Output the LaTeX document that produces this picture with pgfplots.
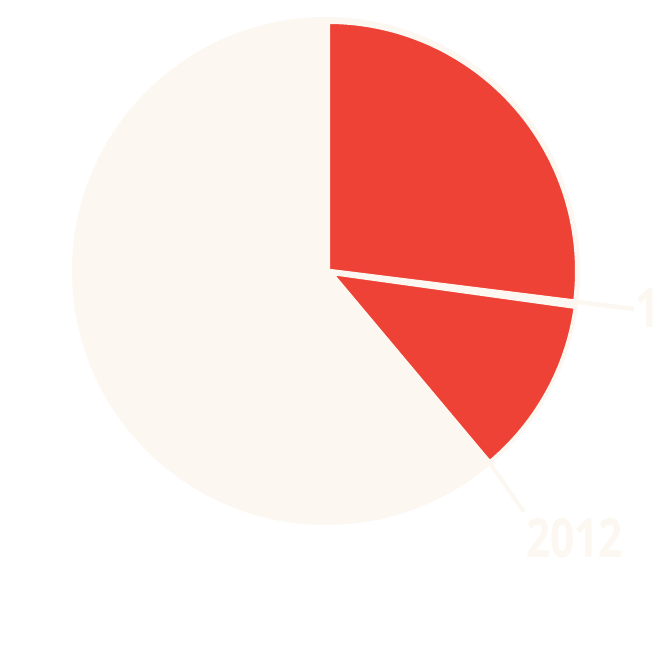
\documentclass[border=0pt]{standalone}
\usepackage{pgfplots}
\usepackage{pgfplotstable}
\pgfplotsset{compat=1.18}
\usepackage{fontspec}
\setmainfont[FakeStretch=0.785]{Open Sans}
\definecolor{pred}{RGB}{239,66,54}
\definecolor{cream}{RGB}{252,247,240}
\pgfplotstableread{
label value
1 27.2
2012 11.7
rest 61.1
}\piedata
\begin{document}
\begin{tikzpicture}
\pgfplotstablegetelem{0}{value}\of\piedata \let\valA\pgfplotsretval
\pgfplotstablegetelem{1}{value}\of\piedata \let\valB\pgfplotsretval
\pgfmathsetmacro\angA{90-3.6*\valA}
\pgfmathsetmacro\angB{\angA-3.6*\valB}
\begin{axis}[scale only axis, width=660pt, height=660pt,
  xmin=0,xmax=660,ymin=0,ymax=660, hide axis, clip=true]
\path (axis cs:0,0) rectangle (axis cs:660,660);
\fill[cream] (axis cs:326,389) circle[radius=254pt];
\filldraw[fill=pred, draw=cream, line width=4pt, line join=round]
  (axis cs:328,389) -- ++(90:249pt) arc[start angle=90,end angle=\angA,radius=249pt] -- cycle;
\filldraw[fill=pred, draw=cream, line width=4pt, line join=round]
  (axis cs:331,387) -- ++(\angA:247pt) arc[start angle=\angA,end angle=\angB,radius=247pt] -- cycle;
\draw[cream, line width=4.5pt] (axis cs:329,389) -- (axis cs:634,351);
\draw[cream, line width=4pt] (axis cs:487,201) -- (axis cs:524,148);
\node[anchor=base west, inner sep=0, text=cream, font=\bfseries\fontsize{54}{54}\selectfont] at (axis cs:635,332) {1};
\node[anchor=base west, inner sep=0, text=cream, font=\bfseries\fontsize{54}{54}\selectfont] at (axis cs:526,102) {2012};
\end{axis}
\end{tikzpicture}
\end{document}
